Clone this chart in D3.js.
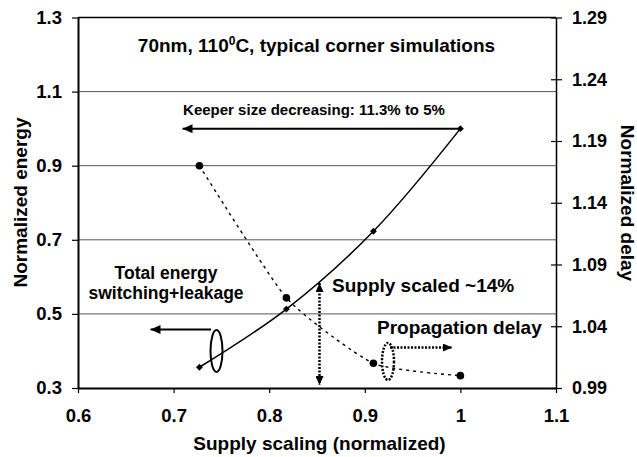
<!DOCTYPE html>
<html><head><meta charset="utf-8">
<script src="https://cdn.jsdelivr.net/npm/d3@7"></script>
<style>
body{margin:0;background:#fff}
svg text{font-family:"Liberation Sans",Arial,Helvetica,sans-serif;font-weight:bold;fill:#000}
</style>
</head><body>
<svg id="c" width="637" height="457"></svg>
<script>
// ---- data ----
const supply = [0.727, 0.818, 0.909, 1.0];
const energy = [0.356, 0.513, 0.723, 1.0];
const delay  = [1.170, 1.063, 1.010, 1.000];
const xTicks = [0.6, 0.7, 0.8, 0.9, 1.0, 1.1];
const xTickLabels = ["0.6", "0.7", "0.8", "0.9", "1", "1.1"];
const energyTicks = [0.3, 0.5, 0.7, 0.9, 1.1, 1.3];
const energyTickLabels = ["0.3", "0.5", "0.7", "0.9", "1.1", "1.3"];
const delayTicks = [0.99, 1.04, 1.09, 1.14, 1.19, 1.24, 1.29];
const delayTickLabels = ["0.99", "1.04", "1.09", "1.14", "1.19", "1.24", "1.29"];

const svg = d3.select("#c");
const L = 78, R = 556, T = 17.5, B = 388;
const x = d3.scaleLinear().domain([0.6, 1.1]).range([L, R]);
const yL = d3.scaleLinear().domain([0.3, 1.3]).range([B, T]);
const yR = d3.scaleLinear().domain([0.99, 1.29]).range([B, T]);

// arrow markers
const defs = svg.append("defs");
function mk(id, len, w) {
  defs.append("marker").attr("id", id).attr("markerUnits", "userSpaceOnUse")
    .attr("viewBox", `0 0 ${len} ${w}`).attr("refX", len).attr("refY", w / 2)
    .attr("markerWidth", len).attr("markerHeight", w).attr("orient", "auto-start-reverse")
    .append("path").attr("d", `M0,0L${len},${w / 2}L0,${w}Z`).attr("fill", "#000");
}
mk("ah", 10, 9);
mk("ahs", 9, 8);

// gridlines
svg.append("g").selectAll("line").data(energyTicks.filter(v => v > 0.3)).join("line")
  .attr("x1", L).attr("x2", R).attr("y1", d => yL(d)).attr("y2", d => yL(d))
  .attr("stroke", d => d === 1.3 ? "#000" : "#555")
  .attr("stroke-width", d => d === 1.3 ? 1.5 : 1);

// axes
const fmtIdx = (vals, labs) => d => labs[vals.indexOf(d)];
const gx = svg.append("g").attr("transform", `translate(0,${B})`)
  .call(d3.axisBottom(x).tickValues(xTicks).tickFormat(fmtIdx(xTicks, xTickLabels))
    .tickSizeInner(5).tickSizeOuter(0).tickPadding(16));
const gl = svg.append("g").attr("transform", `translate(${L},0)`)
  .call(d3.axisLeft(yL).tickValues(energyTicks).tickFormat(fmtIdx(energyTicks, energyTickLabels))
    .tickSizeInner(6).tickSizeOuter(0).tickPadding(10));
const gr = svg.append("g").attr("transform", `translate(${R},0)`)
  .call(d3.axisRight(yR).tickValues(delayTicks).tickFormat(fmtIdx(delayTicks, delayTickLabels))
    .tickSizeInner(6).tickSizeOuter(0).tickPadding(10));
const gr2 = svg.append("g").attr("transform", `translate(${R},0)`)
  .call(d3.axisRight(yR).tickValues(delayTicks).tickFormat("")
    .tickSizeInner(-5).tickSizeOuter(0));
[gx, gl, gr, gr2].forEach(g => {
  g.attr("font-family", null).attr("font-size", null);
  g.selectAll("text").style("font-size", "18.5px");
  g.selectAll("line").attr("stroke", "#000").attr("stroke-width", 1.2);
});
gx.select(".domain").attr("stroke-width", 2);
gl.select(".domain").attr("stroke-width", 2);
gr.select(".domain").attr("stroke-width", 1.5);
gr2.select(".domain").remove();
gr.selectAll("text").style("font-size", "18px");

// energy series (solid, diamonds)
const ptsE = supply.map((s, i) => [x(s), yL(energy[i])]);
svg.append("path").attr("d", d3.line().curve(d3.curveCatmullRom.alpha(0.5))(ptsE))
  .attr("fill", "none").attr("stroke", "#000").attr("stroke-width", 1.5);
svg.append("g").selectAll("path").data(ptsE).join("path")
  .attr("d", d3.symbol(d3.symbolDiamond2, 30))
  .attr("transform", d => `translate(${d[0]},${d[1]})`).attr("fill", "#000");

// delay series (dashed, circles)
const ptsD = supply.map((s, i) => [x(s), yR(delay[i])]);
svg.append("path").attr("d", d3.line().curve(d3.curveCardinal.tension(0.45))(ptsD))
  .attr("fill", "none").attr("stroke", "#000").attr("stroke-width", 1.4)
  .attr("stroke-dasharray", "3,4");
svg.append("g").selectAll("circle").data(ptsD).join("circle")
  .attr("cx", d => d[0]).attr("cy", d => d[1]).attr("r", 3.8).attr("fill", "#000");

// annotations
// keeper arrow
svg.append("line").attr("x1", x(1.0)).attr("y1", yL(1.0)).attr("x2", 182.5).attr("y2", yL(1.0))
  .attr("stroke", "#000").attr("stroke-width", 2).attr("marker-end", "url(#ah)");
svg.append("text").attr("x", 314).attr("y", 115).attr("text-anchor", "middle")
  .style("font-size", "15px").text("Keeper size decreasing: 11.3% to 5%");

// title
const tt = svg.append("text").attr("x", 316.5).attr("y", 52).attr("text-anchor", "middle")
  .style("font-size", "19px");
tt.append("tspan").text("70nm, 110");
tt.append("tspan").attr("dy", -7).style("font-size", "12px").text("0");
tt.append("tspan").attr("dy", 7).text("C, typical corner simulations");

// total energy label, ellipse, arrow
svg.append("text").attr("x", 166).attr("y", 279).attr("text-anchor", "middle")
  .style("font-size", "17.5px").text("Total energy");
svg.append("text").attr("x", 166).attr("y", 299).attr("text-anchor", "middle")
  .style("font-size", "17.5px").text("switching+leakage");
svg.append("ellipse").attr("cx", 216.5).attr("cy", 351).attr("rx", 6).attr("ry", 21)
  .attr("fill", "none").attr("stroke", "#000").attr("stroke-width", 2);
svg.append("line").attr("x1", 211).attr("y1", 329.5).attr("x2", 150.5).attr("y2", 329.5)
  .attr("stroke", "#000").attr("stroke-width", 2).attr("marker-end", "url(#ah)");

// supply scaled dotted double arrow
svg.append("line").attr("x1", 319.5).attr("y1", 283).attr("x2", 319.5).attr("y2", 385)
  .attr("stroke", "#000").attr("stroke-width", 2.5).attr("stroke-dasharray", "2,1.5")
  .attr("marker-start", "url(#ahs)").attr("marker-end", "url(#ahs)");
svg.append("text").attr("x", 332).attr("y", 292).style("font-size", "19px").text("Supply scaled ~14%");

// propagation delay
svg.append("text").attr("x", 377).attr("y", 334).style("font-size", "19px").text("Propagation delay");
svg.append("ellipse").attr("cx", 388).attr("cy", 361.5).attr("rx", 6).attr("ry", 18.5)
  .attr("fill", "none").attr("stroke", "#000").attr("stroke-width", 2.5).attr("stroke-dasharray", "2,1.5");
svg.append("line").attr("x1", 390).attr("y1", 347.5).attr("x2", 452).attr("y2", 347.5)
  .attr("stroke", "#000").attr("stroke-width", 2.5).attr("stroke-dasharray", "2,1.5")
  .attr("marker-end", "url(#ahs)");

// axis titles
svg.append("text").attr("x", 319.5).attr("y", 450).attr("text-anchor", "middle")
  .style("font-size", "19px").text("Supply scaling (normalized)");
svg.append("text").attr("transform", "translate(27,202.5) rotate(-90)").attr("text-anchor", "middle")
  .style("font-size", "19px").text("Normalized energy");
svg.append("text").attr("transform", "translate(621,203) rotate(90)").attr("text-anchor", "middle")
  .style("font-size", "19px").text("Normalized delay");
</script>
</body></html>
